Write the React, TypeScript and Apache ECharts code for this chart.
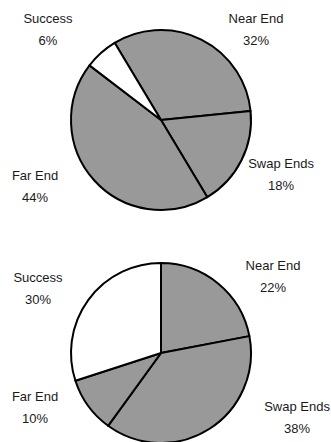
import React, { useEffect, useRef } from "react";
import * as echarts from "echarts";

// Outcome shares (percent) for the two runs
const categories = ["Near End", "Swap Ends", "Far End", "Success"];
const topValues = [32, 18, 44, 6];
const bottomValues = [22, 38, 10, 30];

const GREY = "#999999";
const sliceColors = [GREY, GREY, GREY, "#ffffff"];

// Where each slice's caption sits (x, y of caption centre), per pie
const labelSpots = [
  [
    [256, 29],
    [281, 174],
    [35, 186],
    [48, 29],
  ],
  [
    [273, 276],
    [297, 417],
    [35, 407],
    [38, 288],
  ],
];

function makeSeries(values: number[], center: [number, number], startAngle: number) {
  return {
    type: "pie",
    center,
    radius: 90,
    startAngle,
    clockwise: true,
    silent: true,
    avoidLabelOverlap: false,
    data: categories.map((name, i) => ({
      name,
      value: values[i],
      itemStyle: { color: sliceColors[i] },
    })),
    itemStyle: { borderColor: "#000000", borderWidth: 2 },
    label: {
      show: true,
      position: "outside",
      formatter: "{b}\n{c}%",
      fontFamily: "Liberation Sans, Arial, sans-serif",
      fontSize: 13,
      lineHeight: 22,
      color: "#1a1a1a",
      align: "center",
    },
    labelLine: { show: false },
    labelLayout: (p: any) => {
      const spot = labelSpots[p.seriesIndex][p.dataIndex];
      return { x: spot[0], y: spot[1], align: "center", verticalAlign: "middle" };
    },
  };
}

export default function App() {
  const ref = useRef<HTMLDivElement>(null);
  useEffect(() => {
    if (!ref.current) return;
    const chart = echarts.init(ref.current, undefined, { renderer: "svg" });
    chart.setOption({
      animation: false,
      backgroundColor: "#ffffff",
      series: [
        makeSeries(topValues, [161, 120], 121),
        makeSeries(bottomValues, [161, 353], 90),
      ],
    });
    return () => chart.dispose();
  }, []);
  return (
    <div
      ref={ref}
      style={{ position: "fixed", left: 0, top: 0, width: 331, height: 442 }}
    />
  );
}
